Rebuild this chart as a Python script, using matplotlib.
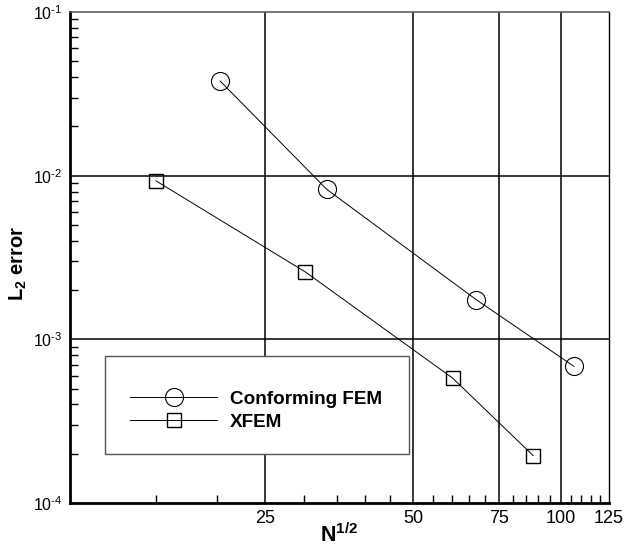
import matplotlib
matplotlib.use("Agg")
import matplotlib.pyplot as plt
from matplotlib.ticker import FixedLocator, FixedFormatter, NullFormatter
from matplotlib.patches import Rectangle

plt.rcParams['font.family'] = ['Liberation Sans', 'DejaVu Sans']
plt.rcParams['mathtext.fontset'] = 'custom'
plt.rcParams['mathtext.rm'] = 'Liberation Sans'
plt.rcParams['mathtext.bf'] = 'Liberation Sans:bold'
plt.rcParams['mathtext.it'] = 'Liberation Sans:italic'

# Data
fem_x = [20.25, 33.4, 67.2, 106.3]
fem_y = [0.0379, 0.00824, 0.00175, 0.000684]
xfem_x = [15.0, 30.2, 60.2, 87.8]
xfem_y = [0.00929, 0.00258, 0.00058, 0.000195]

x_major = [25, 50, 75, 100, 125]
x_major_labels = ['25', '50', '75', '100', '125']
x_minor = [15, 20, 30, 35, 40, 45, 55, 60, 65, 70, 80, 85, 90, 95, 105, 110, 115, 120]
y_major = [1e-4, 1e-3, 1e-2, 1e-1]
y_major_labels = [r'$10^{\text{-4}}$', r'$10^{\text{-3}}$', r'$10^{\text{-2}}$', r'$10^{\text{-1}}$']

W, H = 624, 550
fig = plt.figure(figsize=(W / 100, H / 100), dpi=100)
L, R, T, B = 69.5, 608.5, 12, 503
ax = fig.add_axes([L / W, 1 - B / H, (R - L) / W, (B - T) / H])

ax.set_xscale('log')
ax.set_yscale('log')
ax.set_xlim(10, 125)
ax.set_ylim(1e-4, 1e-1)

ax.xaxis.set_major_locator(FixedLocator(x_major))
ax.xaxis.set_major_formatter(FixedFormatter(x_major_labels))
ax.xaxis.set_minor_locator(FixedLocator(x_minor))
ax.xaxis.set_minor_formatter(NullFormatter())
ax.yaxis.set_major_locator(FixedLocator(y_major))
ax.yaxis.set_major_formatter(FixedFormatter(y_major_labels))
ax.yaxis.set_minor_formatter(NullFormatter())

ax.tick_params(which='major', length=0)
ax.tick_params(axis='x', which='major', labelsize=13, pad=5)
ax.tick_params(axis='y', which='major', labelsize=11.5, pad=5)
ax.tick_params(which='minor', direction='in', length=5.5, width=1.0, color='black')
ax.tick_params(top=False, right=False, which='both')

for v in [25, 50, 75, 100]:
    ax.axvline(v, color='black', lw=1.1, zorder=1)
for v in [1e-2, 1e-3]:
    ax.axhline(v, color='black', lw=1.1, zorder=1)

ax.spines['left'].set_linewidth(2.0)
ax.spines['bottom'].set_linewidth(2.0)
ax.spines['top'].set_linewidth(1.1)
ax.spines['top'].set_color('#555555')
ax.spines['right'].set_linewidth(1.0)

ax.plot(fem_x, fem_y, color='black', lw=0.7, marker='o', markersize=13,
        markerfacecolor='none', markeredgecolor='black', markeredgewidth=0.8,
        label='Conforming FEM', zorder=3)
ax.plot(xfem_x, xfem_y, color='black', lw=0.7, marker='s', markersize=9.5,
        markerfacecolor='none', markeredgecolor='black', markeredgewidth=1.0,
        label='XFEM', zorder=3)

# legend box
fig.patches.append(Rectangle((104.7 / W, 1 - 454 / H), (409 - 104.7) / W, (454 - 355.7) / H,
                             transform=fig.transFigure, facecolor='white',
                             edgecolor='#555555', lw=1.0, zorder=4))
fs = 13.6
fs_px = fs * 100 / 72
leg = fig.legend(loc='upper left', bbox_to_anchor=(130 / W, 1 - 390.5 / H),
                 frameon=False, handlelength=87 / fs_px,
                 handletextpad=(230 - 217) / fs_px, labelspacing=0.3, borderpad=0,
                 borderaxespad=0, prop={'weight': 'bold', 'size': fs})
leg.set_zorder(5)

fig.text(339 / W, 1 - 535 / H, r'N$^{\mathbf{1/2}}$', ha='center', va='center',
         fontsize=15.5, fontweight='bold')
fig.text(18.5 / W, 1 - 263 / H, r'L$_{\mathbf{2}}$ error', ha='center', va='center',
         rotation=90, fontsize=14.5, fontweight='bold')

fig.savefig('out.png', dpi=100)
